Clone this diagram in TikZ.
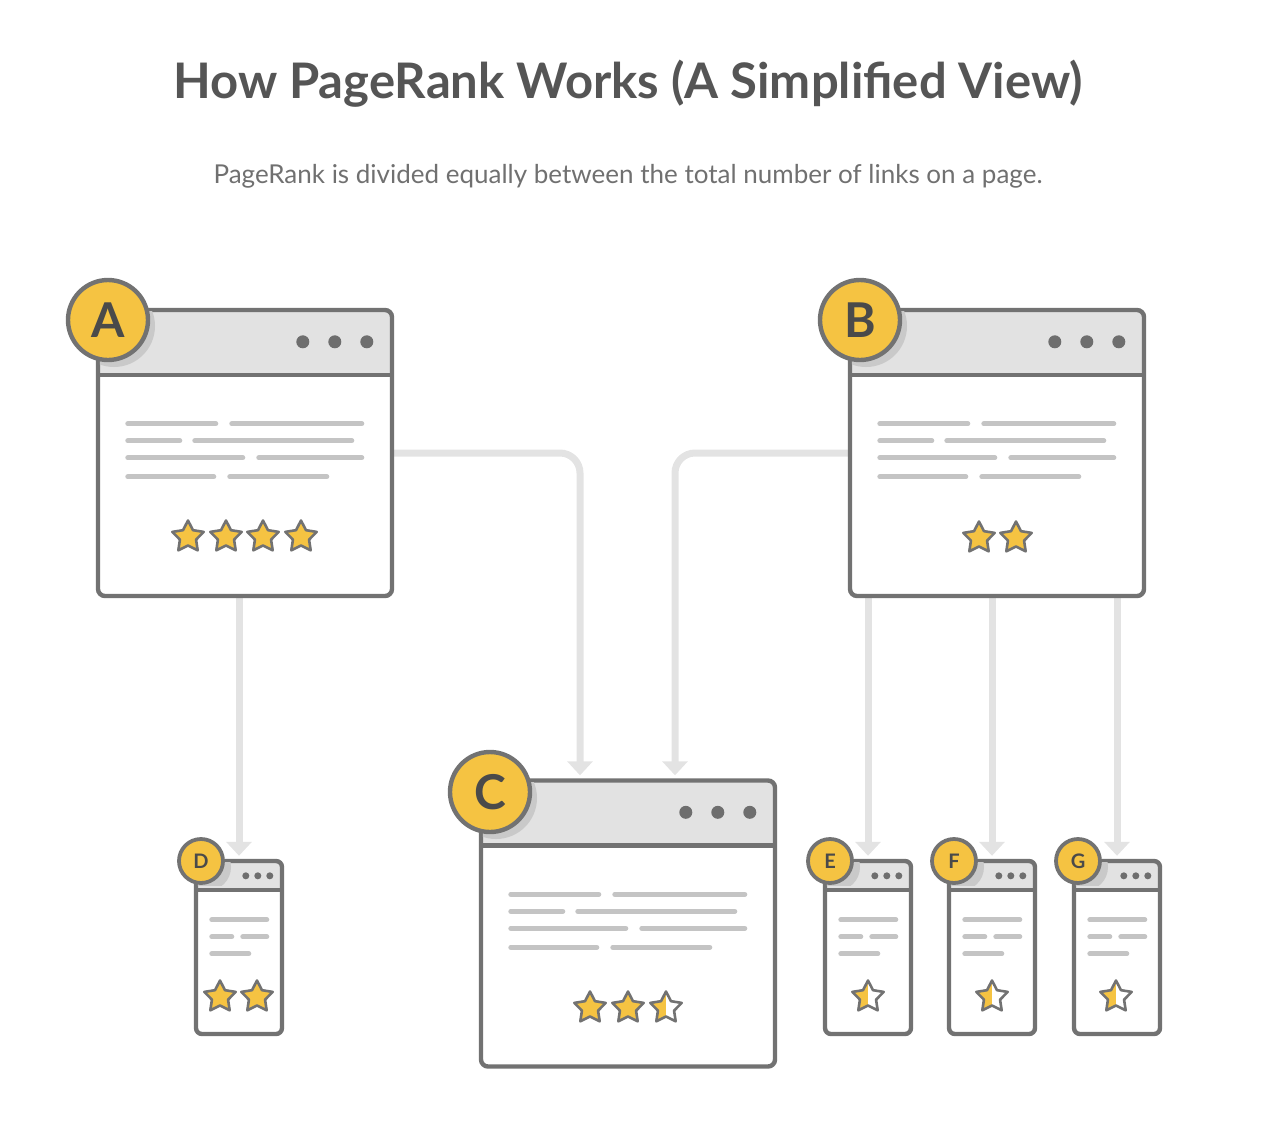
\documentclass[tikz,border=0pt]{standalone}
\usepackage{fontspec}
\setmainfont{Lato}
\usetikzlibrary{positioning,arrows.meta,shapes.geometric,calc,backgrounds}
\definecolor{wingray}{HTML}{727272}
\definecolor{barfill}{HTML}{E2E2E2}
\definecolor{dotgray}{HTML}{6E6E6E}
\definecolor{linegray}{HTML}{C4C4C4}
\definecolor{linkgray}{HTML}{E3E3E3}
\definecolor{gold}{HTML}{F5C342}
\definecolor{lettergray}{HTML}{4A4A4A}
\definecolor{titlegray}{HTML}{555555}
\definecolor{subgray}{HTML}{707070}
\definecolor{shadowgray}{HTML}{C9C9C9}
\tikzset{
  win/.style={draw=wingray, line width=4.4pt, fill=white, inner sep=0pt},
  bigwin/.style={win, rounded corners=7pt, minimum width=294pt, minimum height=286pt,
    path picture={\fill[barfill] (path picture bounding box.north west) rectangle ([yshift=-65pt]path picture bounding box.north east);
      \draw[wingray, line width=4.4pt] ([yshift=-65pt]path picture bounding box.north west) -- ([yshift=-65pt]path picture bounding box.north east);}},
  smallwin/.style={win, rounded corners=6pt, minimum width=86pt, minimum height=173pt,
    path picture={\fill[barfill] (path picture bounding box.north west) rectangle ([yshift=-29pt]path picture bounding box.north east);
      \draw[wingray, line width=3.8pt] ([yshift=-29pt]path picture bounding box.north west) -- ([yshift=-29pt]path picture bounding box.north east);}},
  badge/.style={circle, draw=wingray, line width=4.4pt, fill=gold, minimum size=80pt, inner sep=0pt,
    text=lettergray, font=\fontsize{48}{48}\selectfont\bfseries},
  smallbadge/.style={badge, minimum size=44pt, line width=3.8pt, font=\fontsize{20}{20}\selectfont\bfseries},
  pstar/.style={star, star points=5, star point ratio=1.95, minimum size=33pt, inner sep=0pt,
    draw=wingray, line width=2.6pt, line join=round, fill=gold},
  halfstar/.style={pstar, path picture={\fill[white] (path picture bounding box.north) rectangle (path picture bounding box.south east);}},
  dot/.style={fill=dotgray},
  txt/.style={draw=linegray, line width=5pt, line cap=round},
  link/.style={draw=linkgray, line width=7pt, -{Triangle[width=25pt,length=14pt]}, shorten >=3pt, rounded corners=20pt},
  shade/.style={fill=shadowgray},
  title/.style={anchor=base, text=titlegray, font=\fontsize{49}{58}\selectfont\bfseries},
  sub/.style={anchor=base, text=subgray, font=\fontsize{26}{30}\selectfont}
}
% dots and text lines of a big page
\newcommand{\bigbody}[1]{%
  \foreach \dx in {207,239,271} \fill[dot] ($(#1.north west)+(\dx,34)$) circle (6.5pt);
  \foreach \y/\a/\b/\c/\d in {116/32/120/136/266, 133/32/84/99/256, 150/32/147/163/266, 169/32/118/134/231}{
    \draw[txt] ($(#1.north west)+(\a,\y)$) -- ($(#1.north west)+(\b,\y)$);
    \draw[txt] ($(#1.north west)+(\c,\y)$) -- ($(#1.north west)+(\d,\y)$);}
}
% dots and text lines of a small page
\newcommand{\smallbody}[1]{%
  \foreach \dx in {52,64,76} \fill[dot] ($(#1.north west)+(\dx,17)$) circle (3.5pt);
  \draw[txt] ($(#1.north west)+(18,61)$) -- ++(55,0);
  \draw[txt] ($(#1.north west)+(18,78)$) -- ++(20,0);
  \draw[txt] ($(#1.north west)+(49,78)$) -- ++(24,0);
  \draw[txt] ($(#1.north west)+(18,95)$) -- ++(37,0);
}
% shadow of a badge, kept inside the title bar
\newcommand{\badgeshade}[4]{%
  \begin{scope}
    \clip ($(#1.north west)+(4,4)$) rectangle ($(#1.north east)+(-4,#3)$);
    \fill[shade] ($(#2)+(6,6)$) circle (#4);
  \end{scope}
}

\begin{document}
\begin{tikzpicture}[x=1pt, y=-1pt]
\useasboundingbox (0,0) rectangle (1264,1120);
\node[title] (ttl) at (628,98) {How PageRank Works (A Simplified View)};
\node[sub] (subt) at (628,183) {PageRank is divided equally between the total number of links on a page.};

% pages
\node[bigwin] (A) at (245,453) {};
\node[bigwin] (B) at (997,453) {};
\node[bigwin] (C) at (628,923.5) {};
\node[smallwin] (D) at (239,947.5) {};
\node[smallwin] (E) at (868,947.5) {};
\node[smallwin] (F) at (992,947.5) {};
\node[smallwin] (G) at (1117,947.5) {};
\bigbody{A} \bigbody{B} \bigbody{C}
\smallbody{D} \smallbody{E} \smallbody{F} \smallbody{G}

% badges
\badgeshade{A}{108,320}{62}{41pt}
\badgeshade{B}{860,320}{62}{41pt}
\badgeshade{C}{490,792}{62}{41pt}
\node[badge] (la) at (108,320) {A};
\node[badge] (lb) at (860,320) {B};
\node[badge] (lc) at (490,792) {C};
\foreach \w/\x in {D/201, E/830, F/954, G/1078}{
  \badgeshade{\w}{\x,861}{27}{24pt}
  \node[smallbadge] (l\w) at (\x,861) {\w};
}

% stars
\foreach \x [count=\i] in {188,226,263,301} \node[pstar] (sa\i) at (\x,537) {};
\foreach \x [count=\i] in {979,1016} \node[pstar] (sb\i) at (\x,538) {};
\node[pstar] (sc1) at (590,1008) {};
\node[pstar] (sc2) at (628,1008) {};
\node[halfstar] (sc3) at (666,1008) {};
\node[pstar] (sd1) at (220,997) {};
\node[pstar] (sd2) at (257,997) {};
\node[halfstar] (se) at (868,997) {};
\node[halfstar] (sf) at (992,997) {};
\node[halfstar] (sg) at (1116,997) {};

% links
\coordinate (inca) at ($(C.north)+(-48,0)$);
\coordinate (incb) at ($(C.north)+(47,0)$);
\begin{scope}[on background layer]
\draw[link] (A.south -| D.north) -- (D.north);
\draw[link] (A.east) -| (inca);
\draw[link] (B.west) -| (incb);
\draw[link] (B.south -| E.north) -- (E.north);
\draw[link] (B.south -| F.north) -- (F.north);
\draw[link] (B.south -| G.north) -- (G.north);
\end{scope}
\end{tikzpicture}
\end{document}
